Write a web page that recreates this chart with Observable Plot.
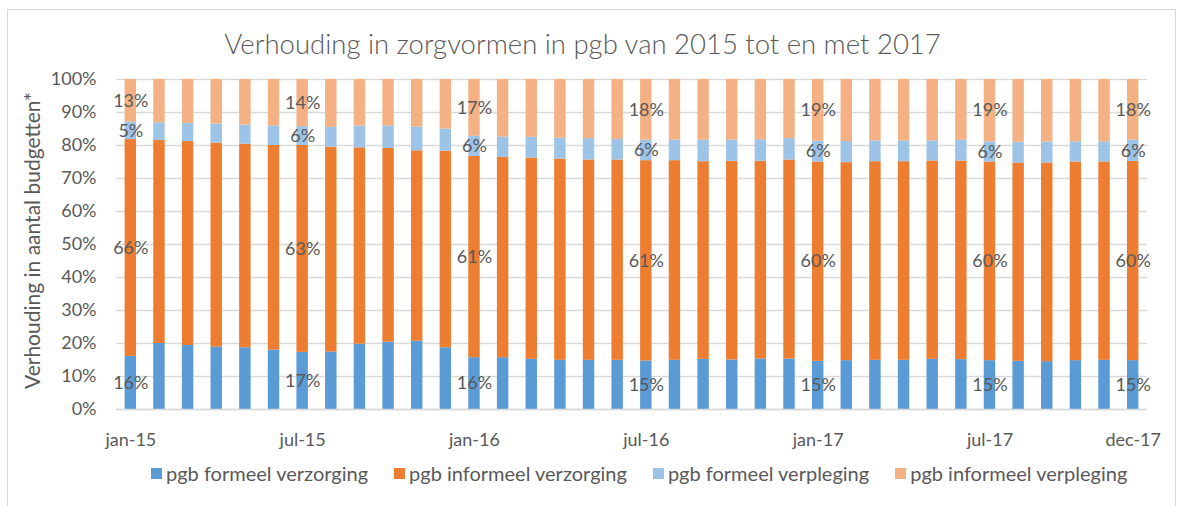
<!DOCTYPE html>
<html>
<head>
<meta charset="utf-8">
<script src="https://cdn.jsdelivr.net/npm/d3@7"></script>
<script src="https://cdn.jsdelivr.net/npm/@observablehq/plot@0.6"></script>
<style>
  html, body { margin: 0; padding: 0; background: #fff; }
  #wrap { position: relative; width: 1179px; height: 506px; overflow: hidden; font-family: Lato, "Open Sans", sans-serif; color: #595959; }
  #border { position: absolute; left: 7px; top: 9px; width: 1169px; height: 520px; border: 1px solid #d9d9d9; box-sizing: border-box; }
  #title { position: absolute; left: 0; top: 27px; width: 1165px; text-align: center; font-size: 27.5px; font-weight: 300; color: #595959; }
  #chart { position: absolute; left: 0; top: 60px; }
  #legend { position: absolute; left: 151px; top: 461px; display: flex; align-items: center; font-size: 20px; color: #595959; }
  .item { display: flex; align-items: center; margin-right: 26px; }
  .sw { width: 11px; height: 11px; margin-right: 4px; }
</style>
</head>
<body>
<div id="wrap">
  <div id="border"></div>
  <div id="title">Verhouding in zorgvormen in pgb van 2015 tot en met 2017</div>
  <div id="chart"></div>
  <div id="legend"></div>
</div>
<script>
const months = [
  "jan-15","feb-15","mrt-15","apr-15","mei-15","jun-15","jul-15","aug-15","sep-15","okt-15","nov-15","dec-15",
  "jan-16","feb-16","mrt-16","apr-16","mei-16","jun-16","jul-16","aug-16","sep-16","okt-16","nov-16","dec-16",
  "jan-17","feb-17","mrt-17","apr-17","mei-17","jun-17","jul-17","aug-17","sep-17","okt-17","nov-17","dec-17"
];
const seriesNames = ["pgb formeel verzorging", "pgb informeel verzorging", "pgb formeel verpleging", "pgb informeel verpleging"];
const seriesColors = ["#5b9bd5", "#ed7d31", "#9dc3e6", "#f4b183"];

const formeelVerzorging = [16.1,20.0,19.4,18.9,18.7,18.0,17.3,17.4,19.8,20.4,20.7,18.7,
  15.7,15.7,15.2,14.9,14.9,14.9,14.7,14.9,15.2,15.0,15.3,15.3,
  14.6,14.8,14.9,14.9,15.2,15.1,14.8,14.6,14.5,14.8,14.9,14.8];
const informeelVerzorging = [65.7,61.5,61.8,61.8,61.7,62.0,62.7,62.1,59.5,58.7,57.7,59.6,
  61.0,60.7,61.0,61.0,60.7,60.7,60.7,60.5,59.9,60.2,59.9,60.3,
  60.4,60.0,60.2,60.2,60.1,60.2,60.2,60.1,60.2,60.2,60.1,60.4];
const formeelVerpleging = [5.3,5.4,5.5,5.8,5.8,5.9,5.7,6.0,6.6,6.8,7.2,6.7,
  6.1,6.2,6.3,6.3,6.5,6.2,6.2,6.2,6.5,6.4,6.5,6.5,
  6.3,6.4,6.3,6.3,6.1,6.3,6.1,6.3,6.3,6.1,6.1,6.4];
const informeelVerpleging = [12.9,13.1,13.3,13.5,13.8,14.1,14.3,14.5,14.1,14.1,14.4,15.0,
  17.2,17.4,17.5,17.8,17.9,18.2,18.4,18.4,18.4,18.4,18.3,17.9,
  18.7,18.8,18.6,18.6,18.6,18.4,18.9,19.0,19.0,18.9,18.9,18.4];

const tickLabels = ["jan-15","jul-15","jan-16","jul-16","jan-17","jul-17","dec-17"];
const labeledMonths = tickLabels;
const yTicks = [0,10,20,30,40,50,60,70,80,90,100];
const yTitle = "Verhouding in aantal budgetten*";

const seriesValues = [formeelVerzorging, informeelVerzorging, formeelVerpleging, informeelVerpleging];
const data = [];
months.forEach((m, i) => {
  seriesNames.forEach((s, j) => data.push({month: m, series: s, value: seriesValues[j][i]}));
});
const labelData = data.filter(d => labeledMonths.includes(d.month));

const font = "Lato, 'Open Sans', sans-serif";

const chart = Plot.plot({
  width: 1179,
  height: 390,
  marginTop: 19,
  marginBottom: 41,
  marginLeft: 116,
  marginRight: 32,
  style: {fontFamily: font, color: "#595959", background: "transparent"},
  x: {type: "band", domain: months, padding: 0, round: false, label: null},
  y: {domain: [0, 100], label: null},
  color: {domain: seriesNames, range: seriesColors},
  marks: [
    Plot.gridY(yTicks, {stroke: "#d9d9d9", strokeOpacity: 1, strokeWidth: 1.3}),
    Plot.barY(data, Plot.stackY({x: "month", y: "value", z: "series", fill: "series", insetLeft: 8.6, insetRight: 8.6})),
    Plot.ruleY([0], {stroke: "#d9d9d9", strokeWidth: 1.5}),
    Plot.axisY(yTicks, {tickSize: 0, tickPadding: 20, tickFormat: d => d + "%", fontSize: 18, fill: "#595959", label: null}),
    Plot.axisX(tickLabels, {tickSize: 0, tickPadding: 24, fontSize: 18, fill: "#595959", label: null}),
    Plot.text(labelData, Plot.stackY({x: "month", y: "value", z: "series", text: d => Math.round(d.value) + "%", fontSize: 18, fill: "#595959"})),
    Plot.text([yTitle], {frameAnchor: "left", dx: -83, dy: -4, rotate: -90, textAnchor: "middle", fontSize: 21, fill: "#595959"})
  ]
});
document.getElementById("chart").appendChild(chart);

const legend = document.getElementById("legend");
seriesNames.forEach((s, i) => {
  const item = document.createElement("div");
  item.className = "item";
  const sw = document.createElement("div");
  sw.className = "sw";
  sw.style.background = seriesColors[i];
  const t = document.createElement("span");
  t.textContent = s;
  item.appendChild(sw);
  item.appendChild(t);
  legend.appendChild(item);
});
</script>
</body>
</html>
